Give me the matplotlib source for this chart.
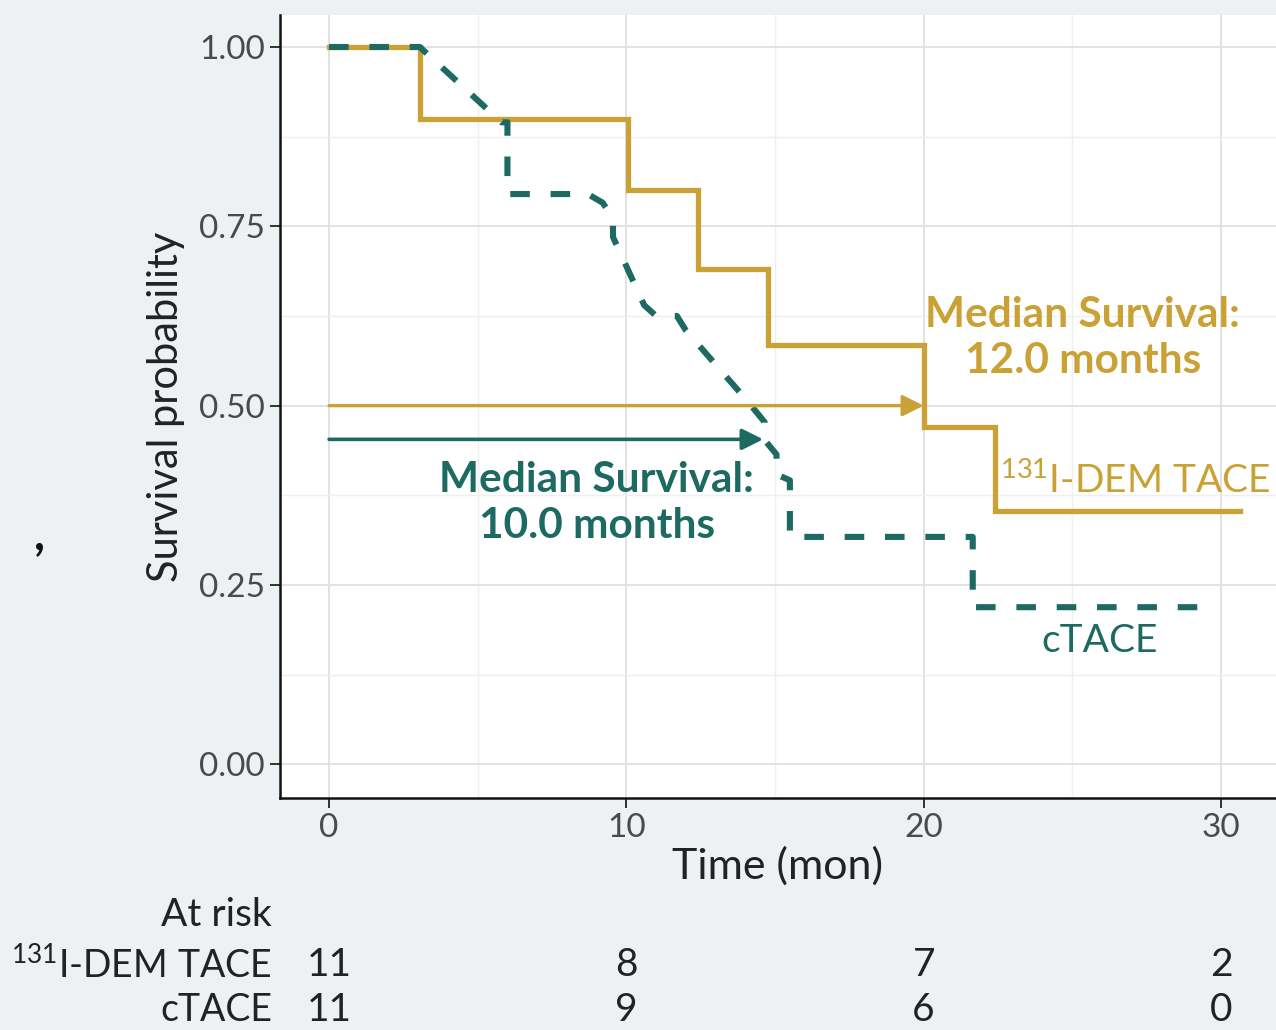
import matplotlib
matplotlib.use("Agg")
import matplotlib.pyplot as plt
from matplotlib.transforms import blended_transform_factory
from matplotlib.ticker import MultipleLocator

# ---------------- data ----------------
dem_time = [0, 3.05, 10.05, 12.4, 14.75, 20.0, 22.4, 30.65]
dem_surv = [1.0, 0.90, 0.80, 0.69, 0.585, 0.47, 0.353, 0.353]

ctace_time = [0, 3.05, 5.8, 6.0, 6.0, 8.7, 9.2, 9.55, 9.55, 10.6, 11.0, 11.7,
              12.0, 14.1, 14.65, 14.65, 15.05, 15.05, 15.5, 15.5, 21.65, 21.65, 29.85]
ctace_surv = [1.0, 1.0, 0.895, 0.895, 0.795, 0.795, 0.783, 0.762, 0.735, 0.64, 0.625, 0.625,
              0.605, 0.505, 0.477, 0.452, 0.432, 0.404, 0.396, 0.317, 0.317, 0.219, 0.219]

median_dem = 20.0     # arrow end for 131I-DEM TACE (at 0.50)
median_ctace = 14.6   # arrow end for cTACE (at 0.45)

x_ticks = [0, 10, 20, 30]
y_ticks = [0.00, 0.25, 0.50, 0.75, 1.00]
y_tick_labels = ["0.00", "0.25", "0.50", "0.75", "1.00"]

risk_groups = [r"$^{131}$I-DEM TACE", "cTACE"]
risk_dem = [11, 8, 7, 2]
risk_ctace = [11, 9, 6, 0]

GOLD = "#c9a135"
TEAL = "#1d6a62"
BG = "#eef1f4"

plt.rcParams['font.family'] = ['Lato', 'DejaVu Sans']
plt.rcParams['mathtext.default'] = 'regular'

fig = plt.figure(figsize=(12.76, 10.30), dpi=100, facecolor=BG)
ax = fig.add_axes([280/1276, 1-798/1030, (1276-280)/1276, (798-15)/1030])
ax.set_facecolor("white")

ax.set_xlim(-1.65, 31.85)
ax.set_ylim(-0.047, 1.0446)

ax.set_xticks(x_ticks)
ax.set_yticks(y_ticks)
ax.set_yticklabels(y_tick_labels)
ax.xaxis.set_minor_locator(MultipleLocator(5))
ax.yaxis.set_minor_locator(MultipleLocator(0.125))
ax.grid(which='major', color='#e2e2e2', lw=1.4)
ax.grid(which='minor', color='#efefef', lw=1.0)
ax.set_axisbelow(True)
ax.tick_params(which='minor', length=0)
ax.tick_params(which='major', length=7, width=1.3, color='#222222',
               labelsize=24, labelcolor='#4a4a4a', pad=4)

for s in ['top', 'right']:
    ax.spines[s].set_visible(False)
for s in ['left', 'bottom']:
    ax.spines[s].set_linewidth(1.8)
    ax.spines[s].set_color('#111111')

# curves
ax.step(dem_time, dem_surv, where='post', color=GOLD, lw=3.8, solid_joinstyle='miter', zorder=3)
ax.plot(ctace_time, ctace_surv, color=TEAL, lw=4.4, ls=(0, (3.2, 3.4)), zorder=4)

# median arrows
ax.annotate("", xy=(median_dem, 0.50), xytext=(0, 0.50),
            arrowprops=dict(arrowstyle='-|>', color=GOLD, lw=2.4, mutation_scale=32,
                            shrinkA=0, shrinkB=0), zorder=5)
ax.annotate("", xy=(median_ctace, 0.453), xytext=(0, 0.453),
            arrowprops=dict(arrowstyle='-|>', color=TEAL, lw=2.6, mutation_scale=32,
                            shrinkA=0, shrinkB=0), zorder=5)

ax.text(25.35, 0.594, "Median Survival:\n12.0 months", color=GOLD, fontsize=30.5,
        fontweight='bold', ha='center', va='center', linespacing=1.25)
ax.text(9.0, 0.364, "Median Survival:\n10.0 months", color=TEAL, fontsize=30.5,
        fontweight='bold', ha='center', va='center', linespacing=1.25)
ax.text(27.1, 0.396, r"$^{131}$I-DEM TACE", color=GOLD, fontsize=28,
        ha='center', va='center', clip_on=False)
ax.text(25.9, 0.172, "cTACE", color=TEAL, fontsize=28, ha='center', va='center')

ax.set_ylabel("Survival probability", fontsize=30, color='#222222', labelpad=10)
ax.set_xlabel("Time (mon)", fontsize=31, color='#222222', labelpad=2)

# risk table
tr = blended_transform_factory(ax.transData, fig.transFigure)
lab_x = 272/1276
fig.text(lab_x, 1-915/1030, "At risk", fontsize=28, ha='right', va='center', color='#222222')
row_y = [1-965/1030, 1-1010/1030]
for gname, vals, yy in zip(risk_groups, [risk_dem, risk_ctace], row_y):
    fig.text(lab_x, yy, gname, fontsize=27, ha='right', va='center', color='#222222')
    for xv, v in zip(x_ticks, vals):
        ax.text(xv, yy, str(v), transform=tr, fontsize=28, ha='center', va='center',
                color='#222222', clip_on=False)

fig.text(40/1276, 1-535/1030, ",", fontsize=34, fontweight='bold', ha='center', va='center',
         color='#111111')

fig.savefig("out.png", dpi=100, facecolor=BG)
